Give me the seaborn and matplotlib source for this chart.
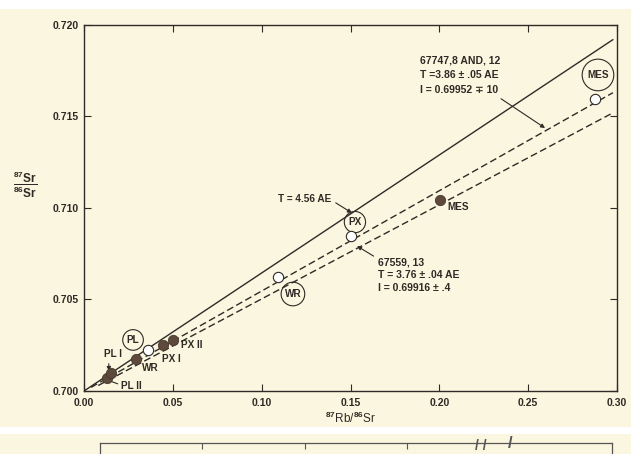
import numpy as np
import pandas as pd
import seaborn as sns
import matplotlib.pyplot as plt
from matplotlib.patches import Rectangle
from matplotlib.ticker import FormatStrFormatter

sns.set_style('ticks')
plt.rcParams['font.family'] = ['Liberation Sans', 'DejaVu Sans']
plt.rcParams['font.weight'] = 'bold'
plt.rcParams['mathtext.fontset'] = 'custom'
plt.rcParams['mathtext.rm'] = 'Liberation Sans:bold'
plt.rcParams['mathtext.it'] = 'Liberation Sans:bold'
plt.rcParams['mathtext.bf'] = 'Liberation Sans:bold'

# 矿物点 (实心: 一个样品, 空心: 另一个样品)
filled_names = ['PL II', 'PL I', 'WR', 'PX I', 'PX II', 'MES']
filled_x = [0.0129, 0.0152, 0.0293, 0.0445, 0.0501, 0.2004]
filled_y = [0.70071, 0.70098, 0.70175, 0.70251, 0.70279, 0.71044]
open_names = ['PL', 'WR', 'PX', 'MES']
open_x = [0.0360, 0.1092, 0.1503, 0.2876]
open_y = [0.70224, 0.70623, 0.70847, 0.71596]

# 等时线端点
ref_x = [0.000, 0.2977]
ref_y = [0.7000, 0.7192]
upper_x = [0.004, 0.2977]
upper_y = [0.7002, 0.7163]
lower_x = [0.008, 0.2977]
lower_y = [0.7003, 0.7152]

x_ticks = [0.00, 0.05, 0.10, 0.15, 0.20, 0.25, 0.30]
y_ticks = [0.700, 0.705, 0.710, 0.715, 0.720]

cream = '#fbf6df'
ink = '#2e2a26'
brown = '#5e4a3c'
fs = 7.2

df_filled = pd.DataFrame({'x': filled_x, 'y': filled_y, 'name': filled_names})
df_open = pd.DataFrame({'x': open_x, 'y': open_y, 'name': open_names})

fig = plt.figure(figsize=(6.31, 4.54), dpi=100, facecolor=cream)
ax = fig.add_axes([84/631, 1-391/454, 533/631, 366/454])
ax.set_facecolor(cream)

sns.lineplot(x=ref_x, y=ref_y, color=ink, lw=1.0, ax=ax)
sns.lineplot(x=upper_x, y=upper_y, color=ink, lw=1.0, linestyle=(0, (5, 2.5)), ax=ax)
sns.lineplot(x=lower_x, y=lower_y, color=ink, lw=1.0, linestyle=(0, (5, 2.5)), ax=ax)

sns.scatterplot(data=df_filled, x='x', y='y', s=55, color=brown, edgecolor='#4a3a2e',
                linewidth=0.6, ax=ax, zorder=5)
sns.scatterplot(data=df_open, x='x', y='y', s=55, color='white', edgecolor=ink,
                linewidth=0.8, ax=ax, zorder=5)

ax.set_xlim(0, 0.30)
ax.set_ylim(0.700, 0.720)
ax.set_xticks(x_ticks)
ax.set_yticks(y_ticks)
ax.xaxis.set_major_formatter(FormatStrFormatter('%.2f'))
ax.yaxis.set_major_formatter(FormatStrFormatter('%.3f'))
ax.tick_params(direction='in', length=5, width=0.8, top=True, right=True,
               labelsize=7.5, colors=ink)
ax.tick_params(axis='x', pad=5)
ax.tick_params(axis='y', pad=4)
for sp in ax.spines.values():
    sp.set_color(ink)
    sp.set_linewidth(1.0)

ax.set_xlabel(r'$^{87}$Rb/$^{86}$Sr', fontsize=8.5, color=ink, labelpad=2)
ax.set_ylabel(r'$\dfrac{^{87}\mathrm{Sr}}{^{86}\mathrm{Sr}}$', fontsize=8.5, color=ink,
              rotation=0)
ax.yaxis.set_label_coords(-0.111, 0.522)

# 圆圈标签
circ = dict(fc='none', ec=ink, lw=0.8)
ax.text(0.0276, 0.70279, 'PL', ha='center', va='center', fontsize=fs, color=ink,
        bbox=dict(boxstyle='circle,pad=0.4', **circ))
ax.text(0.1525, 0.70923, 'PX', ha='center', va='center', fontsize=fs, color=ink,
        bbox=dict(boxstyle='circle,pad=0.4', **circ))
ax.text(0.1176, 0.70530, 'WR', ha='center', va='center', fontsize=fs, color=ink,
        bbox=dict(boxstyle='circle,pad=0.35', **circ))
ax.text(0.2893, 0.71727, 'MES', ha='center', va='center', fontsize=fs, color=ink,
        bbox=dict(boxstyle='circle,pad=0.5', **circ))

# 实心点标签
ax.text(0.0546, 0.70251, 'PX II', ha='left', va='center', fontsize=fs, color=ink)
ax.text(0.0439, 0.70175, 'PX I', ha='left', va='center', fontsize=fs, color=ink)
ax.text(0.0326, 0.70126, 'WR', ha='left', va='center', fontsize=fs, color=ink)
ax.text(0.2043, 0.71005, 'MES', ha='left', va='center', fontsize=fs, color=ink)
arr = dict(arrowstyle='-|>', color=ink, lw=0.8, mutation_scale=6, shrinkA=1, shrinkB=0)
ax.annotate('PL I', xy=(0.0141, 0.70109), xytext=(0.0113, 0.70202), ha='left',
            va='center', fontsize=fs, color=ink,
            arrowprops=dict(relpos=(0.25, 0), **arr))
ax.annotate('PL II', xy=(0.0146, 0.70055), xytext=(0.0208, 0.70027), ha='left',
            va='center', fontsize=fs, color=ink,
            arrowprops=dict(arrowstyle='-', color=ink, lw=0.8, relpos=(0, 0.6),
                            shrinkA=0, shrinkB=0))

# 等时线注释
ax.annotate('T = 4.56 AE', xy=(0.1508, 0.70973), xytext=(0.1092, 0.71049),
            ha='left', va='center', fontsize=fs, color=ink,
            arrowprops=dict(relpos=(1, 0.4), **arr))
ax.annotate('67747,8 AND, 12\nT =3.86 \u00b1 .05 AE\nI = 0.69952 \u2213 10',
            xy=(0.2595, 0.71437), xytext=(0.1891, 0.71831), ha='left', va='top',
            fontsize=fs+0.3, color=ink, linespacing=1.55,
            arrowprops=dict(relpos=(0.92, 0.02), **arr))
ax.annotate('67559, 13\nT = 3.76 \u00b1 .04 AE\nI = 0.69916 \u00b1 .4',
            xy=(0.1537, 0.70792), xytext=(0.1655, 0.70732), ha='left', va='top',
            fontsize=fs+0.3, color=ink, linespacing=1.35,
            arrowprops=dict(relpos=(0, 0.95), **arr))

# 下一幅图的顶部 (被裁切)
ax2 = fig.add_axes([100/631, -0.2, 512/631, 0.2 + 11/454])
ax2.set_facecolor(cream)
ax2.set_xlim(0, 5)
ax2.set_xticks([1, 2, 3])
ax2.set_yticks([])
ax2.tick_params(direction='in', length=4, width=0.8, top=True, bottom=False,
                labeltop=False, labelbottom=False, colors='#555555')
for sp in ax2.spines.values():
    sp.set_color('#555555')
    sp.set_linewidth(0.9)
ax2.text(3.66, 0.97, '/ /', transform=ax2.get_xaxis_transform(), ha='left', va='center',
         fontsize=10, color='#555555')
ax2.text(3.98, 1.0, '/', transform=ax2.get_xaxis_transform(), ha='left', va='center',
         fontsize=12, color='#555555')

# 扫描页面的白边
fig.patches.append(Rectangle((0, 1-9/454), 1, 9/454, transform=fig.transFigure,
                             fc='white', ec='none', zorder=0))
fig.patches.append(Rectangle((0, 1-434/454), 1, 7/454, transform=fig.transFigure,
                             fc='white', ec='none', zorder=0))

fig.savefig('out.png', dpi=100, facecolor=cream)
